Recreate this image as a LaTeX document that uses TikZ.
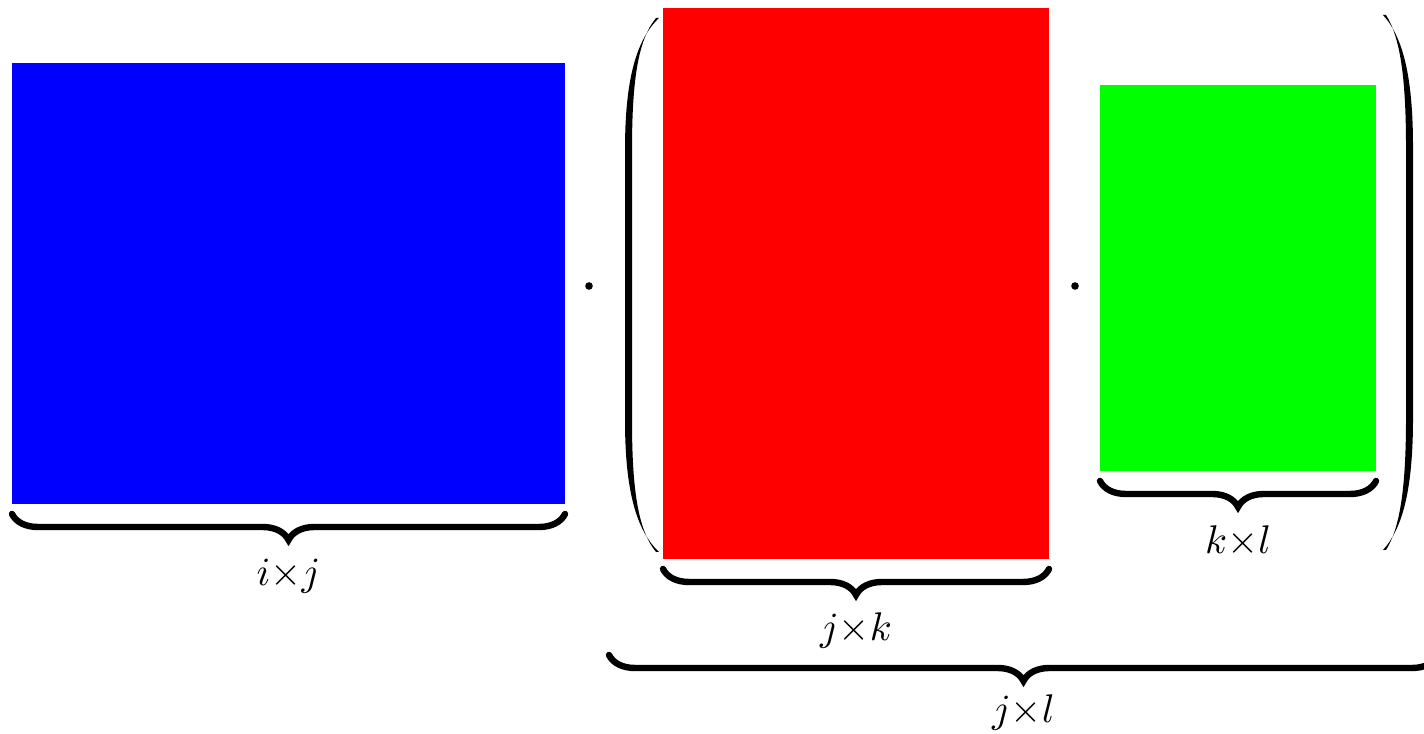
\documentclass[tikz,border=0pt]{standalone}
\usetikzlibrary{decorations.pathreplacing}
\definecolor{mblue}{RGB}{0,0,255}
\definecolor{mred}{RGB}{255,0,0}
\definecolor{mgreen}{RGB}{0,255,0}
\begin{document}
\begin{tikzpicture}[x=0.25pt,y=-0.25pt,
  mbrace/.style={decorate,decoration={brace,mirror,amplitude=6.5pt},line width=1.6pt,line cap=round},
  lbl/.style={inner sep=0pt,anchor=center,yshift=-15.5pt}]
\useasboundingbox (0,0) rectangle (1424,734);
% matrices
\fill[mblue] (12,63) rectangle (565,504);
\fill[mred] (663,8) rectangle (1049,559);
\fill[mgreen] (1100,85) rectangle (1376,471);
\coordinate (b1) at (12,514); \coordinate (b2) at (565,514);
\coordinate (r1) at (663,569); \coordinate (r2) at (1049,569);
\coordinate (g1) at (1100,481); \coordinate (g2) at (1376,481);
\coordinate (o1) at (609,655); \coordinate (o2) at (1438,655);
% braces
\draw[mbrace] (b1) -- (b2) node[midway,lbl] (lij) {$i{\times}j$};
\draw[mbrace] (r1) -- (r2) node[midway,lbl] (ljk) {$j{\times}k$};
\draw[mbrace] (g1) -- (g2) node[midway,lbl,yshift=0.5pt] (lkl) {$k{\times}l$};
\draw[mbrace] (o1) -- (o2) node[midway,lbl,yshift=1.2pt] (ljl) {$j{\times}l$};
% dots
\fill (589,286) circle (0.95pt);
\fill (1075,286) circle (0.95pt);
% left parenthesis
\fill (659,18) .. controls (636,40) and (625,80) .. (625,150) -- (625,420)
  .. controls (625,490) and (636,530) .. (659,552)
  -- (656,552) .. controls (638,530) and (632,490) .. (632,420) -- (632,150)
  .. controls (632,80) and (638,40) .. (656,18) -- cycle;
% right parenthesis
\fill (1383,15) .. controls (1403,37) and (1413,77) .. (1413,147) -- (1413,418)
  .. controls (1413,488) and (1403,528) .. (1383,550)
  -- (1386,550) .. controls (1400,528) and (1406,488) .. (1406,418) -- (1406,147)
  .. controls (1406,77) and (1400,37) .. (1386,15) -- cycle;
\end{tikzpicture}
\end{document}
